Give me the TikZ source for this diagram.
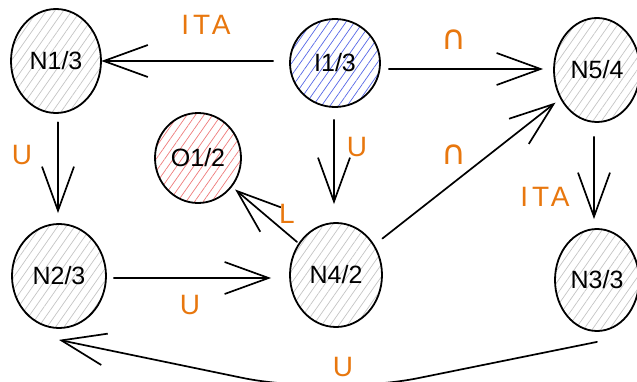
\documentclass[tikz,border=0pt]{standalone}
\usepackage{fontspec}
\setmainfont{Liberation Sans}
\newfontfamily\symfont{DejaVu Sans}
\usetikzlibrary{arrows.meta,patterns.meta,shapes.geometric}

\definecolor{hatchgray}{HTML}{C4C4C4}
\definecolor{hatchblue}{HTML}{5566E6}
\definecolor{hatchred}{HTML}{EE7A7A}
\definecolor{lblorange}{HTML}{E8770E}

\tikzset{
  state/.style={ellipse, draw=black, line width=1.8pt, inner sep=0pt,
    minimum width=90pt, minimum height=104pt,
    font=\fontsize{25}{25}\selectfont,
    pattern={Lines[angle=55,distance=7pt,line width=0.7pt]},
    pattern color=hatchgray},
  bluestate/.style={state, pattern color=hatchblue},
  redstate/.style={state, pattern color=hatchred},
  trans/.style={line width=1.7pt, line cap=round,
    -{Straight Barb[length=44pt,width=32pt,line width=1.7pt]}},
  lbl/.style={text=lblorange, font=\fontsize{28}{28}\selectfont\addfontfeature{LetterSpace=14}},
  symlbl/.style={text=lblorange, font=\fontsize{34}{34}\symfont},
}

\begin{document}
\begin{tikzpicture}[x=1pt,y=-1pt]
  \useasboundingbox (0,0) rectangle (637,382);

  % states
  \node[state]     (n13) at (56,61)   {N1/3};
  \node[bluestate, minimum width=90pt, minimum height=88pt] (i13) at (335,63) {I1/3};
  \node[state, minimum width=86pt]  (n54) at (597,70)  {N5/4};
  \node[redstate, minimum width=86pt, minimum height=90pt] (o12) at (198,158) {O1/2};
  \node[state, minimum width=94pt]  (n23) at (59,276)  {N2/3};
  \node[state, minimum width=92pt]  (n42) at (336,275) {N4/2};
  \node[state, minimum width=84pt, minimum height=102pt] (n33) at (597,280) {N3/3};

  % transitions
  \draw[trans, shorten <=16pt] (i13.west |- 0,61) -- (n13.east |- 0,61);
  \draw[trans, shorten <=8pt, shorten >=10pt] (i13.east |- 0,69) -- (n54.west |- 0,69);
  \draw[trans, shorten <=12pt, shorten >=18pt] (i13.south -| 334,0) -- (n42.north -| 334,0);
  \draw[trans, shorten <=9pt, shorten >=10pt] (n13.south -| 58,0) -- (n23.north -| 58,0);
  \draw[trans, shorten <=14pt, shorten >=9pt] (n54.south -| 594,0) -- (n33.north -| 594,0);
  \draw[trans, shorten <=10pt, shorten >=6pt] (n42) -- (n54);
  \draw[trans, shorten <=2pt, shorten >=4pt] (n42) -- (o12);
  \draw[trans, shorten <=7pt, shorten >=18pt] (n23.east |- 0,278) -- (n42.west |- 0,278);

  \coordinate (bend) at (330,396);
  \draw[trans, rounded corners=90pt]
    ([yshift=-10pt]n33.south) -- (bend) -- ([yshift=-11pt]n23.south);

  % labels
  \node[lbl]    (l1) at (206,25)  {ITA};
  \node[symlbl] (l2) at (454,40)  {∩};
  \node[lbl]    (l3) at (357,147) {U};
  \node[symlbl] (l4) at (454,155) {∩};
  \node[lbl]    (l5) at (22,155)  {U};
  \node[lbl]    (l6) at (545,197) {ITA};
  \node[lbl]    (l7) at (287,214) {L};
  \node[lbl]    (l8) at (190,305) {U};
  \node[lbl]    (l9) at (343,367) {U};
\end{tikzpicture}
\end{document}
